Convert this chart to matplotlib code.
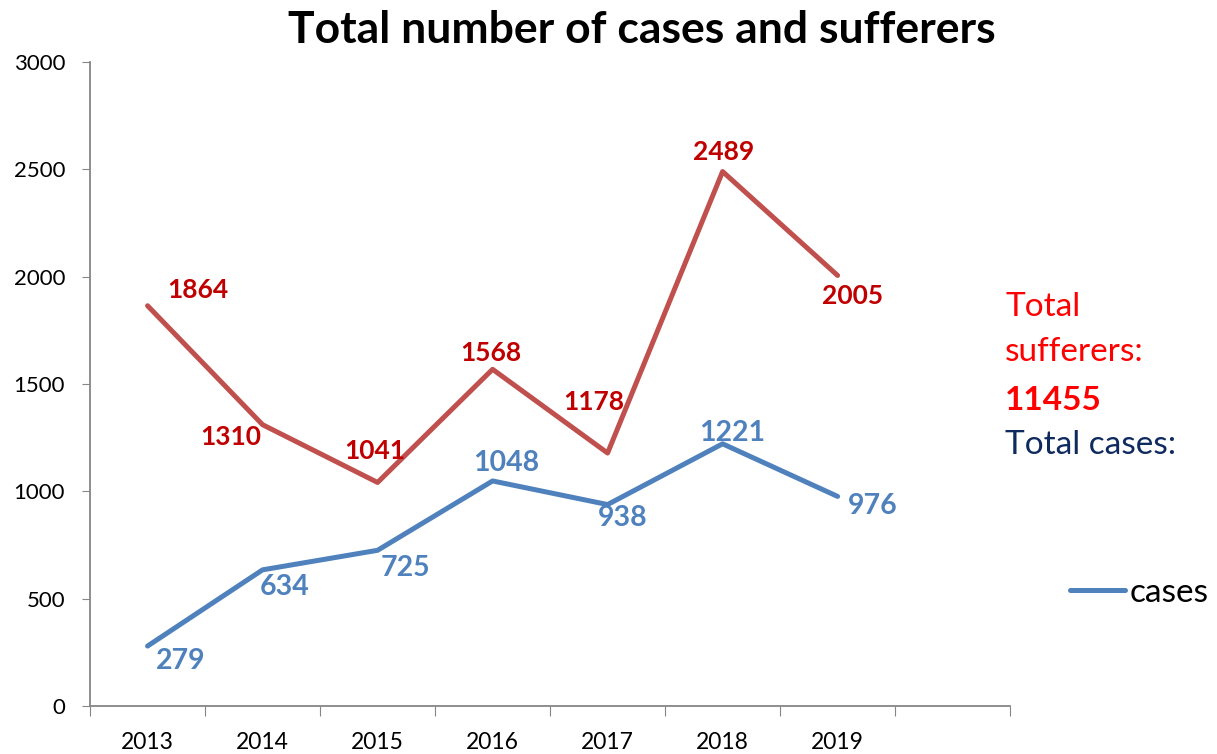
import matplotlib
matplotlib.use("Agg")
import matplotlib.pyplot as plt

plt.rcParams['font.family'] = ['Lato', 'DejaVu Sans']

# data
years = ['2013', '2014', '2015', '2016', '2017', '2018', '2019']
sufferers = [1864, 1310, 1041, 1568, 1178, 2489, 2005]
cases = [279, 634, 725, 1048, 938, 1221, 976]
total_sufferers = 11455

# label offsets in points (dx, dy)
suff_offsets = [(36, 11), (-23, -9), (-2, 23), (-1, 12), (-10, 37), (1, 14), (11, -15)]
case_offsets = [(24, -11), (16, -12), (20, -13), (10, 13), (11, -10), (7, 8), (25, -7)]

red_line = '#C0504D'
red_label = '#C00000'
blue_line = '#4F81BD'
grey = '#868686'

fig = plt.figure(figsize=(12.17, 7.54), dpi=100)
ax = fig.add_axes([0.074, 0.0637, 0.756, 0.8543])

x = list(range(len(years)))
ax.plot(x, sufferers, color=red_line, lw=3.6, solid_capstyle='round', solid_joinstyle='round')
ax.plot(x, cases, color=blue_line, lw=3.6, solid_capstyle='round', solid_joinstyle='round',
        label='cases')

for i, v in enumerate(sufferers):
    ax.annotate(str(v), (i, v), xytext=suff_offsets[i], textcoords='offset points',
                ha='center', va='center', color=red_label, fontsize=19, fontweight='bold')
for i, v in enumerate(cases):
    ax.annotate(str(v), (i, v), xytext=case_offsets[i], textcoords='offset points',
                ha='center', va='center', color=blue_line, fontsize=20.5, fontweight='bold')

ax.set_xlim(-0.5, 7.5)
ax.set_ylim(0, 3000)
ax.set_yticks(range(0, 3001, 500))
ax.set_xticks([i - 0.5 for i in range(9)])
ax.set_xticklabels([])
ax.set_xticks(x, minor=True)
ax.set_xticklabels(years, minor=True)
ax.tick_params(axis='x', which='minor', length=0, pad=19, labelsize=16.5)
ax.tick_params(axis='x', which='major', length=7, color=grey, direction='out')
ax.tick_params(axis='y', length=6, color=grey, labelsize=16, pad=12)
for s in ['top', 'right']:
    ax.spines[s].set_visible(False)
for s in ['left', 'bottom']:
    ax.spines[s].set_color(grey)
    ax.spines[s].set_linewidth(1.3)

fig.text(0.527, 0.960, 'Total number of cases and sufferers', ha='center', va='center',
         fontsize=32, fontweight='bold')

tx = 0.826
fig.text(tx, 1 - 307 / 754, 'Total', ha='left', va='center', color='#FF0000', fontsize=24)
fig.text(tx, 1 - 352 / 754, 'sufferers:', ha='left', va='center', color='#FF0000', fontsize=24)
fig.text(tx, 1 - 400 / 754, str(total_sufferers), ha='left', va='center', color='#FF0000',
         fontsize=24, fontweight='bold')
fig.text(tx, 1 - 445 / 754, 'Total cases:', ha='left', va='center', color='#0F2A5F',
         fontsize=24)

fig.legend(loc='center left', bbox_to_anchor=(0.879, 0.2135), frameon=False, fontsize=24,
           handlelength=1.65, handletextpad=0.15, borderpad=0, borderaxespad=0)

fig.savefig('out.png', dpi=100)
